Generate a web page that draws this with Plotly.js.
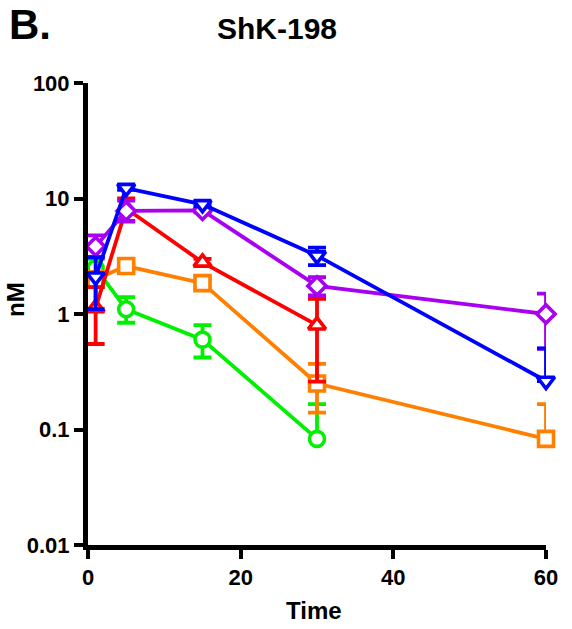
<!DOCTYPE html>
<html>
<head>
<meta charset="utf-8">
<script src="https://cdn.plot.ly/plotly-3.0.1.min.js"></script>
<style>html,body{margin:0;padding:0;background:#fff;}</style>
</head>
<body>
<div id="chart" style="width:572px;height:629px;"></div>
<script>
// Time points
const time = [1, 5, 15, 30, 60];

// Series values (nM) and SEM (upper / lower)
const greenY = [2.5, 1.1, 0.6, 0.083, null];
const greenErrPlus = [0.5, 0.3, 0.2, 0.083, 0];
const greenErrMinus = [0.5, 0.26, 0.18, 0, 0];

const orangeY = [2.0, 2.6, 1.85, 0.25, 0.083];
const orangeErrPlus = [0.25, 0.1, 0.15, 0.12, 0.083];
const orangeErrMinus = [0.25, 0.1, 0.15, 0.11, 0];

const redY = [1.13, 8.2, 2.8, 0.8, null];
const redErrPlus = [0.58, 1.8, 0.2, 0.55, 0];
const redErrMinus = [0.58, 1.8, 0.2, 0.54, 0];

const purpleY = [3.85, 7.8, 7.9, 1.75, 1.0];
const purpleErrPlus = [0.95, 1.8, 0.3, 0.33, 0.5];
const purpleErrMinus = [0.75, 1.5, 0.3, 0.3, 0.5];

const blueY = [2.1, 12.3, 8.9, 3.2, 0.263];
const blueErrPlus = [1.0, 0.4, 0.3, 0.55, 0.24];
const blueErrMinus = [1.0, 0.4, 0.3, 0.55, 0];

const yTickVals = [0.01, 0.1, 1, 10, 100];
const yTickText = ["0.01", "0.1", "1", "10", "100"];
const xTickVals = [0, 20, 40, 60];

function series(y, ep, em, color, symbol, size) {
  return {
    x: time, y: y, type: 'scatter', mode: 'lines+markers',
    cliponaxis: false, showlegend: false,
    line: {color: color, width: 3.8},
    marker: {symbol: symbol, size: size, color: '#ffffff', line: {color: color, width: 3.6}},
    error_y: {type: 'data', symmetric: false, array: ep, arrayminus: em,
              color: color, thickness: 3.8, width: 9}
  };
}

const data = [
  series(greenY, greenErrPlus, greenErrMinus, '#00f000', 'circle', 15),
  series(orangeY, orangeErrPlus, orangeErrMinus, '#ff8000', 'square', 15),
  series(redY, redErrPlus, redErrMinus, '#ff0000', 'triangle-up', 15),
  series(purpleY, purpleErrPlus, purpleErrMinus, '#a800f0', 'diamond', 14),
  series(blueY, blueErrPlus, blueErrMinus, '#0000ff', 'triangle-down', 15)
];

const W = 572, H = 629;
const m = {l: 88, r: 26, t: 83, b: 84};
const pw = W - m.l - m.r, ph = H - m.t - m.b;
function px(x) { return (x - m.l) / pw; }
function py(y) { return 1 - (y - m.t) / ph; }

const font = {family: 'Liberation Sans, Arial, sans-serif', color: '#000', weight: 'bold'};

const layout = {
  width: W, height: H,
  margin: m,
  paper_bgcolor: '#fff', plot_bgcolor: '#fff',
  font: font,
  title: {text: 'ShK-198', x: 277 / W, xref: 'container', xanchor: 'center',
          y: 1 - 28 / H, yref: 'container', yanchor: 'middle',
          font: Object.assign({}, font, {size: 30})},
  xaxis: {
    range: [0, 60], tickvals: xTickVals, ticktext: xTickVals.map(String),
    showgrid: false, zeroline: false, showline: true, linecolor: '#000', linewidth: 5,
    ticks: 'outside', ticklen: 9, tickwidth: 4, tickcolor: '#000',
    tickfont: Object.assign({}, font, {size: 22})
  },
  yaxis: {
    type: 'log', range: [-2, 2], tickvals: yTickVals, ticktext: yTickText,
    showgrid: false, zeroline: false, showline: true, linecolor: '#000', linewidth: 5,
    ticks: 'outside', ticklen: 9, tickwidth: 4, tickcolor: '#000',
    tickfont: Object.assign({}, font, {size: 22})
  },
  annotations: [
    {text: 'B.', xref: 'paper', yref: 'paper', x: px(8), y: py(24), xanchor: 'left', yanchor: 'middle',
     showarrow: false, borderpad: 0, font: Object.assign({}, font, {size: 42})},
    {text: 'nM', xref: 'paper', yref: 'paper', x: px(15), y: py(300), xanchor: 'center', yanchor: 'middle',
     textangle: -90, showarrow: false, font: Object.assign({}, font, {size: 24})},
    {text: 'Time', xref: 'paper', yref: 'paper', x: px(314), y: py(610), xanchor: 'center', yanchor: 'middle',
     showarrow: false, font: Object.assign({}, font, {size: 24})}
  ]
};

Plotly.newPlot('chart', data, layout, {displayModeBar: false, staticPlot: true});
</script>
</body>
</html>
